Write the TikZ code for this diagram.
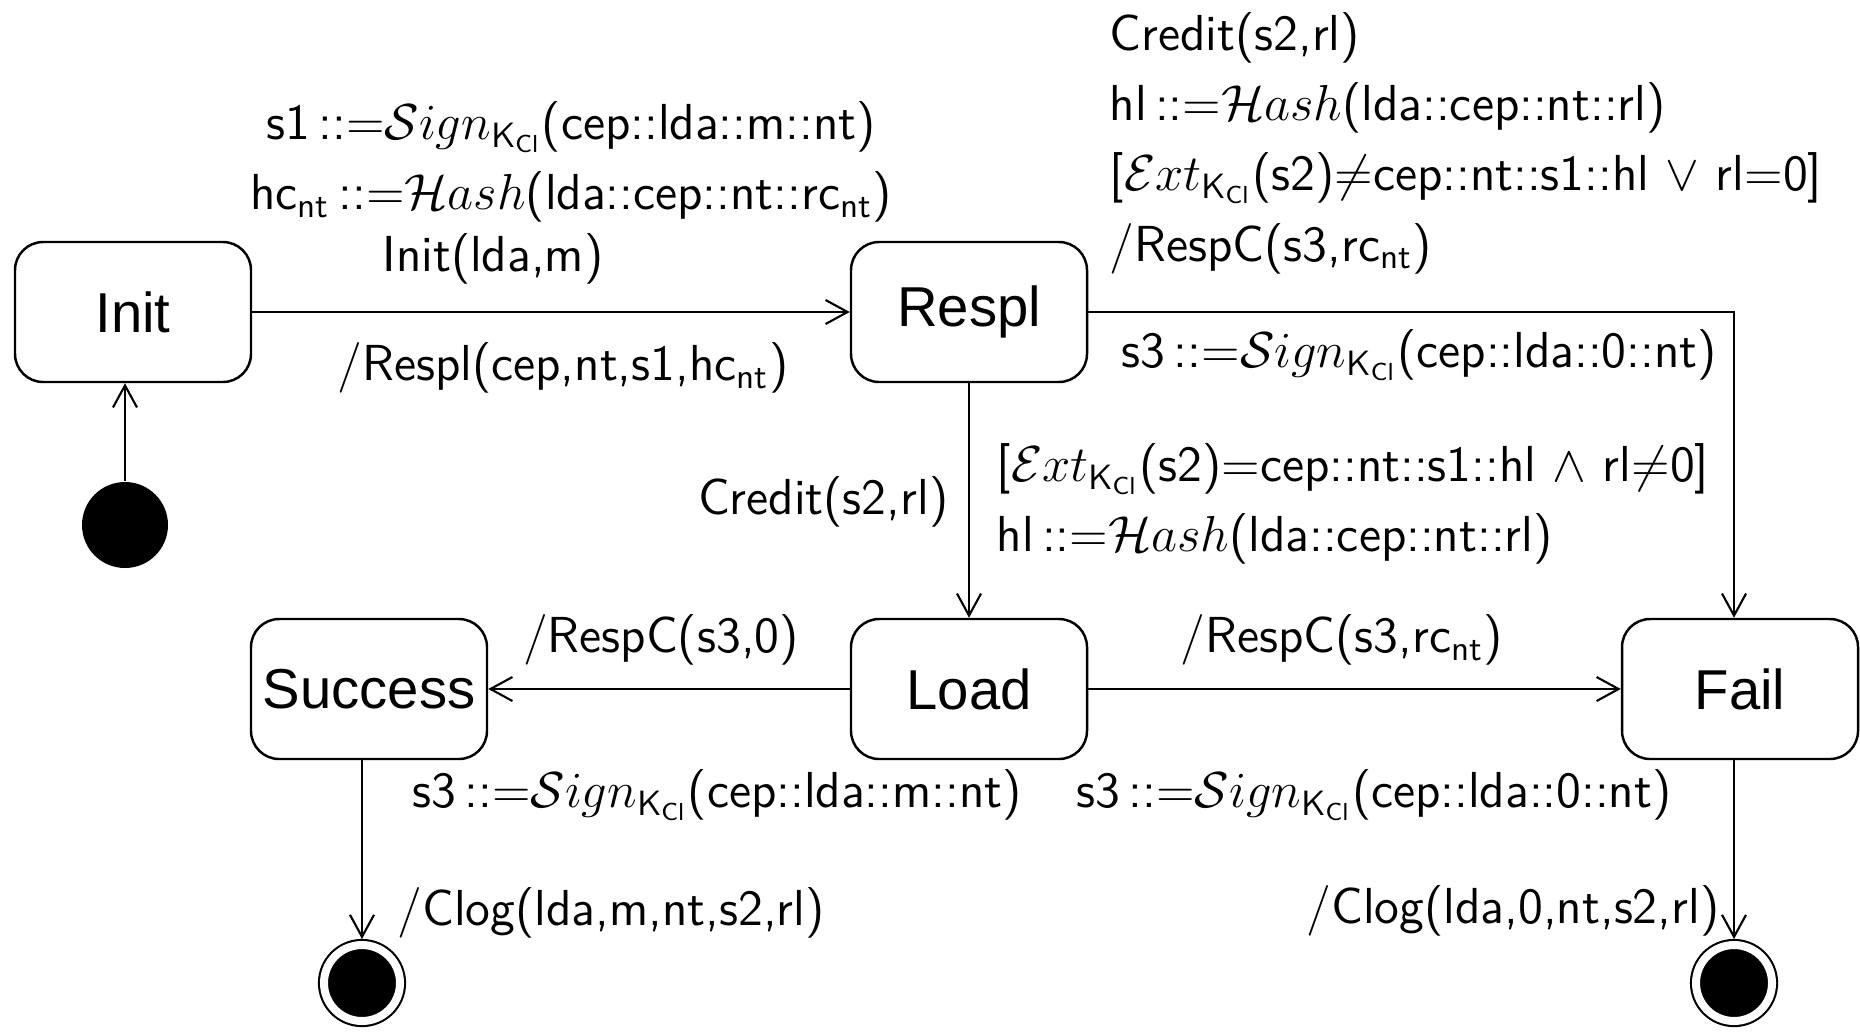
\documentclass[tikz,border=0pt]{standalone}
\usepackage{amsmath}
\usepackage{fontspec}
\usepackage{tikz}
\usetikzlibrary{arrows.meta,positioning}
\newfontfamily\statefont{Liberation Sans}
\newcommand{\KCl}{\mathsf{K}_{\mathsf{Cl}}}
\newcommand{\SignK}{$\mathcal{S}ign_{\KCl}$}
\newcommand{\HashF}{$\mathcal{H}ash$}
\newcommand{\ExtK}{$\mathcal{E}xt_{\KCl}$}
\newcommand{\nts}{$_{\mathsf{nt}}$}
\newcommand{\asgn}{\,::$=$}

\begin{document}
\begin{tikzpicture}[
  state/.style={draw,line width=0.7pt,rounded corners=8pt,minimum width=2.36cm,minimum height=1.4cm,font=\statefont\fontsize{16}{19}\selectfont},
  lbl/.style={font=\sffamily\fontsize{14.4}{20}\selectfont,inner sep=0pt},
  initdot/.style={circle,fill=black,minimum size=0.86cm,inner sep=0pt},
  enddot/.style={circle,draw,fill=black,double=white,double distance=0.8mm,line width=0.6pt,minimum size=0.76cm,inner sep=0pt,outer sep=0.6mm},
  trans/.style={-{Straight Barb[length=2.2mm,width=2.4mm]},line width=0.6pt}
]
\useasboundingbox (0,0) rectangle (18.6,-10.33);

\node[state] (init) at (1.33,-3.12) {Init};
\node[state] (respl) at (9.69,-3.12) {Respl};
\node[state] (load) at (9.69,-6.89) {Load};
\node[state] (success) at (3.69,-6.89) {Success};
\node[state] (fail) at (17.40,-6.89) {Fail};

\node[initdot] (start) at (1.25,-5.25) {};
\node[enddot] (okend) at (3.62,-9.83) {};
\node[enddot] (failend) at (17.34,-9.83) {};

\draw[trans] (start) -- (start |- init.south);
\draw[trans] (init) -- (respl);
\draw[trans] (respl) -- (load);
\draw[trans] (respl.east) -| (fail.north -| failend);
\draw[trans] (load) -- (success);
\draw[trans] (load) -- (fail);
\draw[trans] (success.south -| okend) -- (okend);
\draw[trans] (fail.south -| failend) -- (failend);

% transition labels
\node[lbl,align=center] (initTop) at (5.71,-1.62) {
  s1\asgn\SignK(cep::lda::m::nt)\\
  hc\nts\asgn\HashF(lda::cep::nt::rc\nts)};
\node[lbl] (initEvt) at (4.93,-2.59) {Init(lda,m)};
\node[lbl] (initBot) at (5.63,-3.68) {/Respl(cep,nt,s1,hc\nts)};

\node[lbl,align=left,anchor=west] (failTop) at (11.09,-1.43) {
  Credit(s2,rl)\\
  hl\asgn\HashF(lda::cep::nt::rl)\\
  {[}\ExtK(s2)$\neq$cep::nt::s1::hl $\vee$ rl$=$0]\\
  /RespC(s3,rc\nts)};
\node[lbl,anchor=west] (failBot) at (11.21,-3.55) {s3\asgn\SignK(cep::lda::0::nt)};

\node[lbl,anchor=east] (loadLeft) at (9.49,-5.02) {Credit(s2,rl)};
\node[lbl,align=left,anchor=west] (loadRight) at (9.96,-5.04) {
  {[}\ExtK(s2)$=$cep::nt::s1::hl $\wedge$ rl$\neq$0]\\
  hl\asgn\HashF(lda::cep::nt::rl)};

\node[lbl] (okTop) at (6.61,-6.40) {/RespC(s3,0)};
\node[lbl] (okBot) at (7.17,-7.95) {s3\asgn\SignK(cep::lda::m::nt)};
\node[lbl] (noTop) at (13.42,-6.40) {/RespC(s3,rc\nts)};
\node[lbl] (noBot) at (13.74,-7.95) {s3\asgn\SignK(cep::lda::0::nt)};

\node[lbl,anchor=west] (okLog) at (3.97,-9.13) {/Clog(lda,m,nt,s2,rl)};
\node[lbl,anchor=east] (noLog) at (17.20,-9.11) {/Clog(lda,0,nt,s2,rl)};

\end{tikzpicture}
\end{document}
